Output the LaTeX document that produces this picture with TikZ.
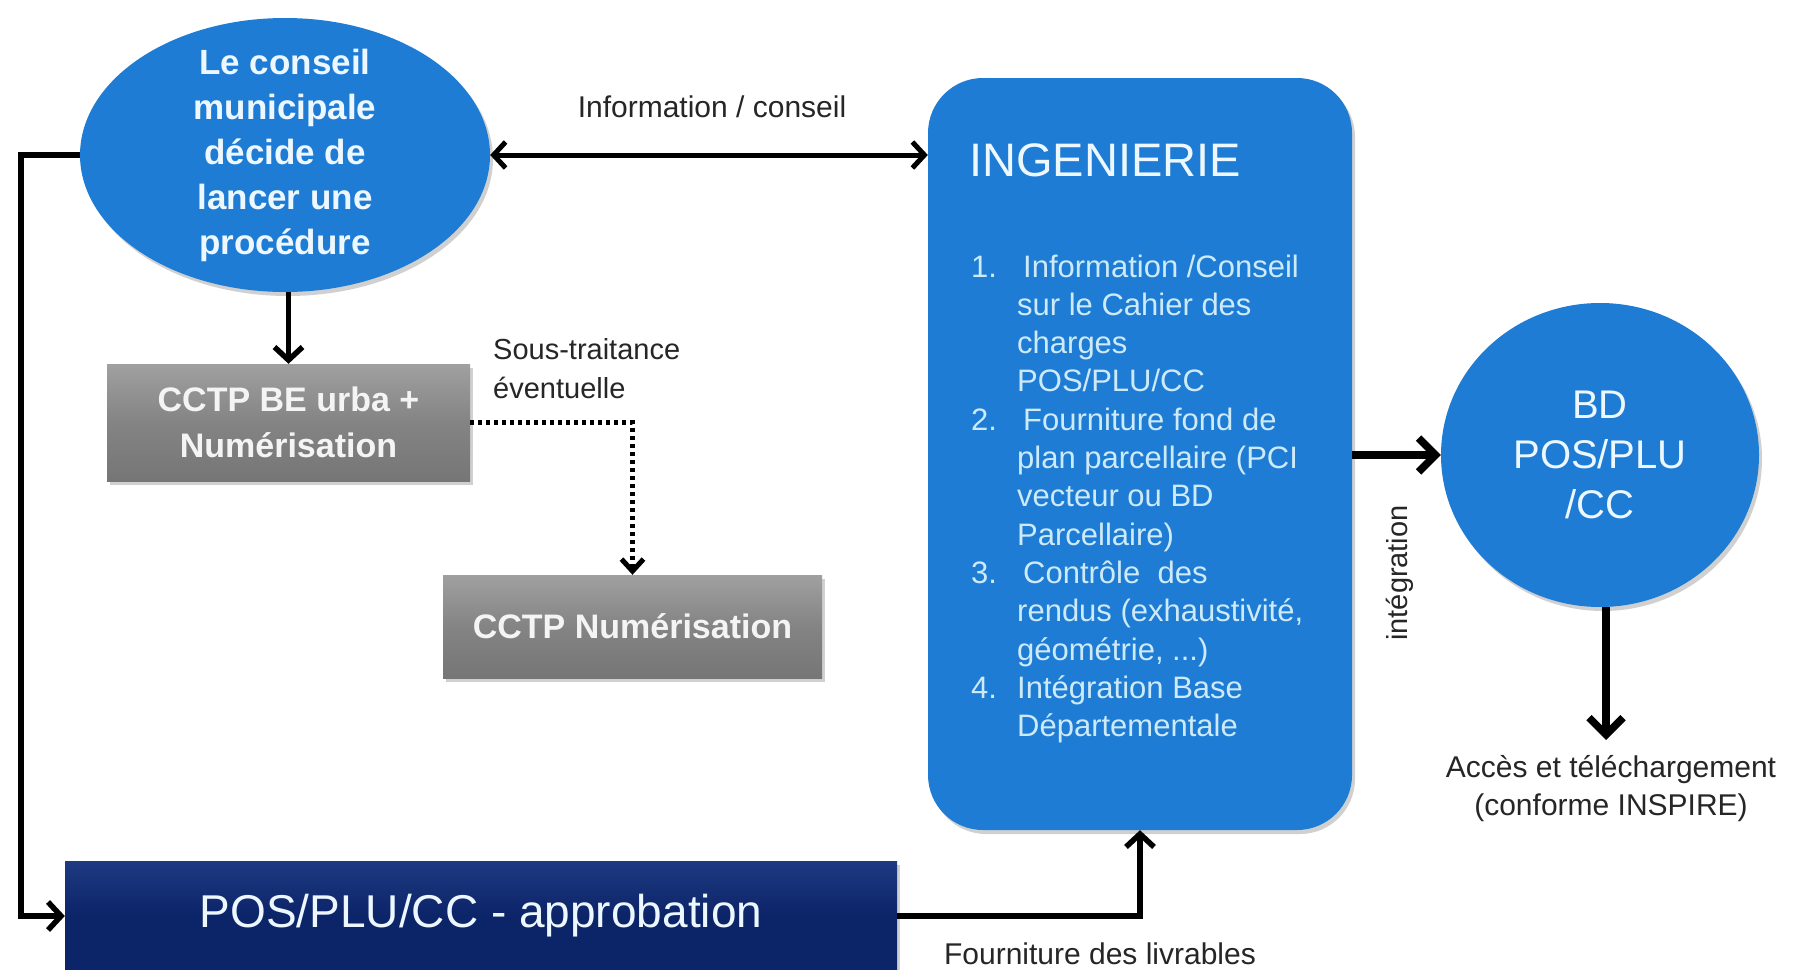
\documentclass[tikz,border=0pt]{standalone}
\usepackage{fontspec}
\setmainfont{Liberation Sans}
\usetikzlibrary{arrows.meta,shapes.geometric,shadows,calc}
\definecolor{bluefill}{RGB}{30,124,212}
\definecolor{navyfill}{RGB}{12,36,104}
\definecolor{navytop}{RGB}{30,58,130}
\definecolor{greytop}{RGB}{160,160,160}
\definecolor{greybot}{RGB}{118,118,118}
\definecolor{paletext}{RGB}{236,247,255}
\definecolor{listtext}{RGB}{205,234,248}
\definecolor{greytext}{RGB}{244,244,244}
\tikzset{
  shad/.style={drop shadow={shadow xshift=3pt,shadow yshift=-4pt,opacity=0.3,fill=black!60}},
  ellnode/.style={ellipse, fill=bluefill, draw=none, inner sep=0pt, shad},
  greybox/.style={rectangle, top color=greytop, bottom color=greybot, middle color=greybot!90!white, draw=none, shad,
    text=greytext, font=\bfseries\fontsize{34}{46}\selectfont, align=center, inner sep=0pt},
  navybox/.style={rectangle, top color=navytop, bottom color=navyfill, middle color=navyfill, draw=none, shad,
    text=paletext, font=\fontsize{46}{55}\selectfont, align=center, inner sep=0pt},
  ingbox/.style={rectangle, rounded corners=55pt, fill=bluefill, draw=none, shad, inner sep=0pt},
  lbl/.style={text=black!85, font=\fontsize{30}{38}\selectfont, inner sep=0pt},
  arr/.style={line width=5.5pt, -{Straight Barb[length=13pt,width=28pt]}},
  bigarr/.style={line width=7.5pt, -{Straight Barb[length=17pt,width=34pt]}},
  dblarr/.style={line width=5pt, {Straight Barb[length=12pt,width=26pt]}-{Straight Barb[length=12pt,width=26pt]}},
  dotarr/.style={line width=5pt, dash pattern=on 4pt off 4pt, -{Straight Barb[length=12pt,width=22pt]}}
}
\begin{document}
\begin{tikzpicture}[x=1pt,y=-1pt]
\useasboundingbox (0,0) rectangle (1796,969);
\fill[white] (0,0) rectangle (1796,969);

% nodes
\node[ellnode, minimum width=410pt, minimum height=274pt] (ell) at (285,155) {};
\node[text=paletext, font=\bfseries\fontsize{35}{45}\selectfont, align=center, inner sep=0pt] (ellt) at (ell.center)
  {Le conseil\\municipale\\décide de\\lancer une\\procédure};

\node[ingbox, minimum width=424pt, minimum height=752pt] (ing) at (1140,454) {};
\node[anchor=west, inner sep=0pt, text=paletext, font=\fontsize{47}{56}\selectfont] (ingt) at (969,160) {INGENIERIE};
\node[anchor=north west, inner sep=0pt, text=listtext, font=\fontsize{31}{38.3}\selectfont] (list) at (971,250)
{\begin{tabular}{@{}p{46pt}@{}l@{}}
1. & \hspace{6pt}Information /Conseil\\
   & sur le Cahier des\\
   & charges\\
   & POS/PLU/CC\\
2. & \hspace{6pt}Fourniture fond de\\
   & plan parcellaire (PCI\\
   & vecteur ou BD\\
   & Parcellaire)\\
3. & \hspace{6pt}Contrôle\ \ des\\
   & rendus (exhaustivité,\\
   & géométrie, ...)\\
4. & Intégration Base\\
   & Départementale
\end{tabular}};

\node[ellnode, minimum width=318pt, minimum height=304pt, text=paletext, font=\fontsize{40}{50}\selectfont, align=center] (bd) at (1600,455) {BD\\POS/PLU\\/CC};

\node[greybox, minimum width=363pt, minimum height=117pt] (cctp) at (288.5,422.5) {CCTP BE urba +\\Numérisation};
\node[greybox, minimum width=379pt, minimum height=103pt] (num) at (632.5,626.5) {CCTP Numérisation};
\node[navybox, minimum width=832pt, minimum height=110pt] (pos) at (481,916) {POS/PLU/CC - approbation};

% labels
\node[lbl] (info) at (712,107) {Information / conseil};
\node[lbl, anchor=west, align=left, font=\fontsize{29}{39}\selectfont] (sous) at (493,369) {Sous-traitance\\éventuelle};
\node[lbl, rotate=90, font=\fontsize{29}{36}\selectfont] (integ) at (1400,573) {intégration};
\node[lbl, anchor=north, align=center] (acc) at (1611,755) {Accès et téléchargement\\(conforme INSPIRE)};
\node[lbl] (fourn) at (1100,954) {Fourniture des livrables};
\coordinate (accin) at (1606,740);

% connectors
\draw[arr] (ell.west) -- ++(-59,0) |- (pos.west);
\draw[arr] (cctp.north |- ell.south) -- (cctp.north);
\draw[dblarr] (ell.east) -- (ell.east -| ing.west);
\draw[dotarr] (cctp.east) -| (num.north);
\draw[bigarr] (ing.east |- bd.west) -- (bd.west);
\draw[bigarr] (accin |- bd.south) -- (accin);
\draw[arr] (pos.east) -| (ing.south);
\end{tikzpicture}
\end{document}
